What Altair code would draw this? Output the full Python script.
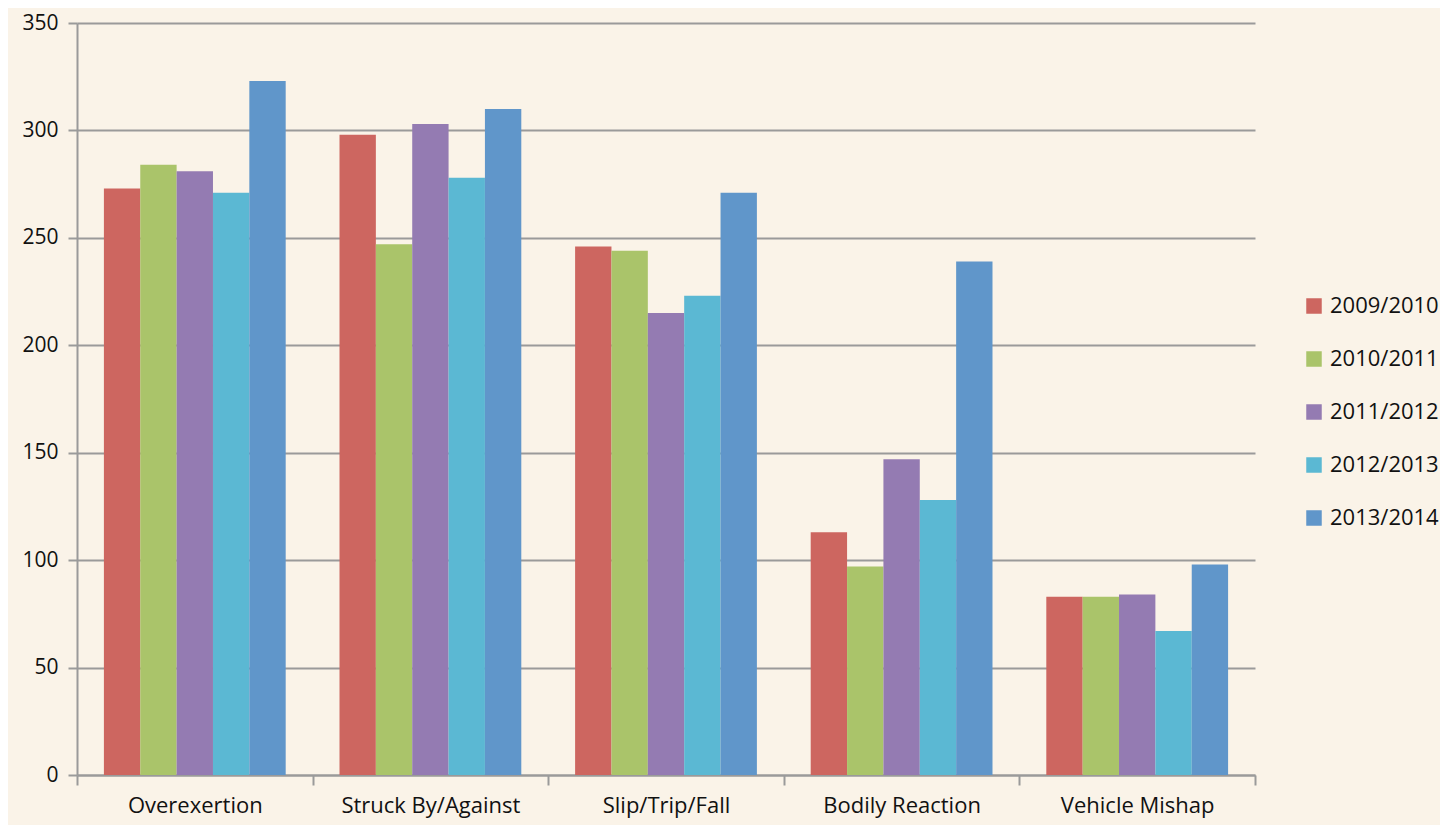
import altair as alt
import pandas as pd

categories = ["Overexertion", "Struck By/Against", "Slip/Trip/Fall", "Bodily Reaction", "Vehicle Mishap"]
years = ["2009/2010", "2010/2011", "2011/2012", "2012/2013", "2013/2014"]
v2009 = [273, 298, 246, 113, 83]
v2010 = [284, 247, 244, 97, 83]
v2011 = [281, 303, 215, 147, 84]
v2012 = [271, 278, 223, 128, 67]
v2013 = [323, 310, 271, 239, 98]
colors = ["#CD6660", "#AAC46A", "#947BB2", "#5BB8D3", "#6096CA"]

series = [v2009, v2010, v2011, v2012, v2013]
rows = []
for y, vals in zip(years, series):
    for c, v in zip(categories, vals):
        rows.append({"Category": c, "Year": y, "Value": v})
df = pd.DataFrame(rows)

FONT = "Open Sans"
GRID = "#9a9a9a"

chart = alt.Chart(df).mark_bar().encode(
    x=alt.X("Category:N", sort=categories, title=None,
            scale=alt.Scale(paddingInner=0, paddingOuter=0),
            axis=alt.Axis(labelAngle=0, tickBand="extent", tickSize=10,
                          labelPadding=10, labelFontSize=22, labelColor="#111",
                          labelFont=FONT, domainColor=GRID, tickColor=GRID,
                          domainWidth=2, tickWidth=2, grid=False)),
    xOffset=alt.XOffset("Year:N", sort=years,
                        scale=alt.Scale(paddingInner=0, paddingOuter=0.74)),
    y=alt.Y("Value:Q", title=None,
            scale=alt.Scale(domain=[0, 350], nice=False),
            axis=alt.Axis(values=[0, 50, 100, 150, 200, 250, 300, 350],
                          tickSize=9, labelPadding=10, labelFontSize=21,
                          labelColor="#111", labelFont=FONT,
                          domainColor=GRID, tickColor=GRID,
                          gridColor=GRID, gridWidth=2, domainWidth=2,
                          tickWidth=2)),
    color=alt.Color("Year:N", sort=years,
                    scale=alt.Scale(domain=years, range=colors),
                    legend=alt.Legend(title=None, orient="none", legendX=1226, legendY=272,
                                      symbolType="square", symbolSize=240,
                                      symbolStrokeWidth=0, labelFontSize=22,
                                      labelFont=FONT, labelColor="#111",
                                      rowPadding=31, labelOffset=5)),
).properties(
    width=1178, height=752,
    background="#FAF3E8",
    padding={"left": 69, "top": 15, "right": 185, "bottom": 50},
    autosize=alt.AutoSizeParams(type="none"),
).configure_view(stroke=None)

chart.save("out.html", embed_options={"renderer": "svg", "actions": False})
